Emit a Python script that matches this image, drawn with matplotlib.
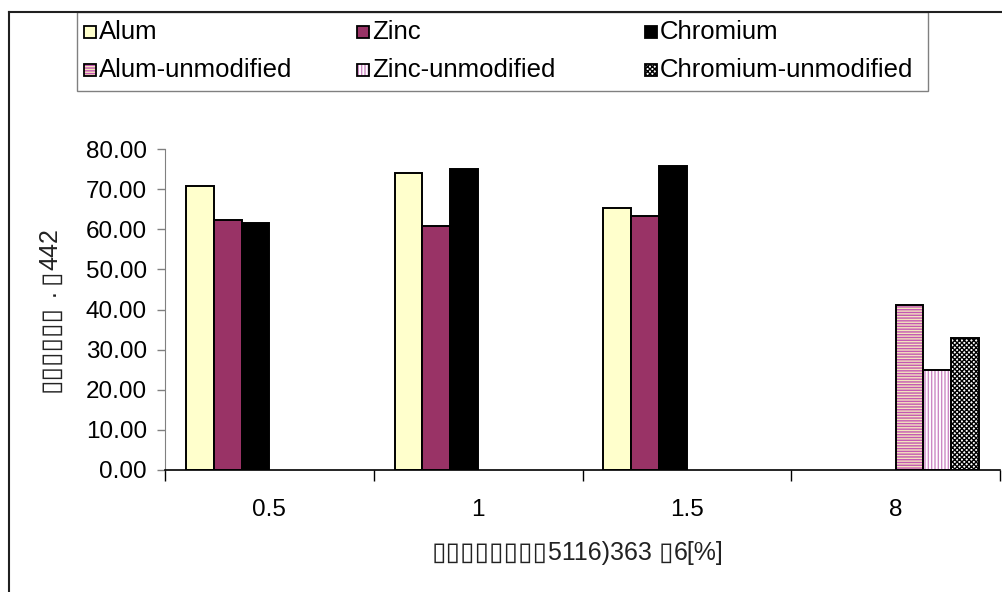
import numpy as np
import matplotlib.pyplot as plt
from matplotlib.patches import Rectangle
from matplotlib.lines import Line2D

# Data
categories = ['0.5', '1', '1.5', '8']
alum = [70.7, 74.0, 65.3, np.nan]
zinc = [62.3, 60.9, 63.4, np.nan]
chromium = [61.5, 75.1, 75.7, np.nan]
alum_unmod = [np.nan, np.nan, np.nan, 41.2]
zinc_unmod = [np.nan, np.nan, np.nan, 24.8]
chromium_unmod = [np.nan, np.nan, np.nan, 32.8]

series_names = ['Alum', 'Zinc', 'Chromium',
                'Alum-unmodified', 'Zinc-unmodified', 'Chromium-unmodified']
series_values = [alum, zinc, chromium, alum_unmod, zinc_unmod, chromium_unmod]
yticks = [0, 10, 20, 30, 40, 50, 60, 70, 80]

BOX = '\u25af'
# axis titles, as (text, size) pieces laid end to end
ylabel_parts = [(BOX * 6, 19), (' . ', 18), (BOX, 19), ('442', 18)]
xlabel_parts = [(BOX * 8, 19), ('5116)363 ', 18), (BOX, 19), ('6[%]', 18)]

# fill colour, hatch, hatch colour
styles = [
    ('#FFFFCC', None, None),
    ('#993366', None, None),
    ('#000000', None, None),
    ('#F3E6BC', '------', '#C457B4'),
    ('#FFFFFF', '|||||', '#CC88C4'),
    ('#FFFFFF', 'xxxxxxx', '#000000'),
]

W, H = 1003, 592
FONT = ['Liberation Sans', 'DejaVu Sans']
plt.rcParams['font.family'] = FONT
plt.rcParams['hatch.linewidth'] = 1.0

fig = plt.figure(figsize=(W / 100, H / 100), dpi=100)


def fx(px):
    return px / W


def fy(py):
    return 1 - py / H


# outer chart frame (left and top edges)
fig.add_artist(Line2D([fx(9), fx(9)], [fy(12), 0], transform=fig.transFigure,
                      color='#202020', lw=1.5))
fig.add_artist(Line2D([fx(9), 1], [fy(12), fy(12)], transform=fig.transFigure,
                      color='#202020', lw=1.5))

ax = fig.add_axes([fx(165), fy(470), fx(1000) - fx(165), fy(149) - fy(470)])

n = len(series_values)
width = 0.8 / n
x = np.arange(len(categories))
for k, (vals, (fill, hatch, hcol)) in enumerate(zip(series_values, styles)):
    pos = x - 0.4 + width * (k + 0.5)
    if hatch is None:
        ax.bar(pos, vals, width, color=fill, edgecolor='black', linewidth=1.4, zorder=2)
    else:
        ax.bar(pos, vals, width, color=fill, hatch=hatch, edgecolor=hcol,
               linewidth=0, zorder=2)
        ax.bar(pos, vals, width, fill=False, edgecolor='black', linewidth=1.4, zorder=3)

ax.set_xlim(-0.5, len(categories) - 0.5)
ax.set_ylim(0, 80)
ax.set_yticks(yticks)
ax.set_yticklabels([f'{v:.2f}' for v in yticks], fontsize=17.5)
ax.set_xticks(x)
ax.set_xticklabels(categories, fontsize=17.5)
ax.set_xticks(np.arange(len(categories) + 1) - 0.5, minor=True)
ax.tick_params(axis='x', which='major', length=0, pad=21)
ax.tick_params(axis='x', which='minor', length=8, width=1, color='black', direction='out')
ax.tick_params(axis='y', length=6, width=1, color='#808080', pad=7)
for s in ['top', 'right']:
    ax.spines[s].set_visible(False)
ax.spines['left'].set_color('#808080')
ax.spines['bottom'].set_color('black')
ax.spines['bottom'].set_linewidth(1.2)

# axis titles: pieces placed one after another on a shared baseline
fig.canvas.draw()
renderer = fig.canvas.get_renderer()


def place_parts(parts, x0, y0, vertical):
    pos = y0 if vertical else x0
    for txt, size in parts:
        if vertical:
            t = fig.text(fx(x0), fy(pos), txt, rotation=90, rotation_mode='anchor',
                         ha='left', va='baseline', fontsize=size, color='#222222')
            pos -= t.get_window_extent(renderer).height
        else:
            t = fig.text(fx(pos), fy(y0), txt, ha='left', va='baseline',
                         fontsize=size, color='#222222')
            pos += t.get_window_extent(renderer).width


place_parts(ylabel_parts, 57, 392, vertical=True)
place_parts(xlabel_parts, 432, 560, vertical=False)

# legend box
fig.add_artist(Rectangle((fx(77), fy(91)), fx(928) - fx(77), fy(12) - fy(91),
                         transform=fig.transFigure, facecolor='white',
                         edgecolor='#808080', lw=1.0))
col_x = [84, 357, 645]
row_y = [32, 70]
msize = 12
for k, (name, (fill, hatch, hcol)) in enumerate(zip(series_names, styles)):
    cx = col_x[k % 3]
    cy = row_y[k // 3]
    corner = (fx(cx), fy(cy + msize / 2))
    if hatch is not None:
        fig.add_artist(Rectangle(corner, fx(msize), msize / H, transform=fig.transFigure,
                                 facecolor=fill, hatch=hatch, edgecolor=hcol, lw=0))
    else:
        fig.add_artist(Rectangle(corner, fx(msize), msize / H, transform=fig.transFigure,
                                 facecolor=fill, lw=0))
    fig.add_artist(Rectangle(corner, fx(msize), msize / H, transform=fig.transFigure,
                             fill=False, edgecolor='black', lw=1.3))
    fig.text(fx(cx + 15), fy(cy), name, ha='left', va='center', fontsize=18.5)

fig.savefig('out.png', dpi=100)
